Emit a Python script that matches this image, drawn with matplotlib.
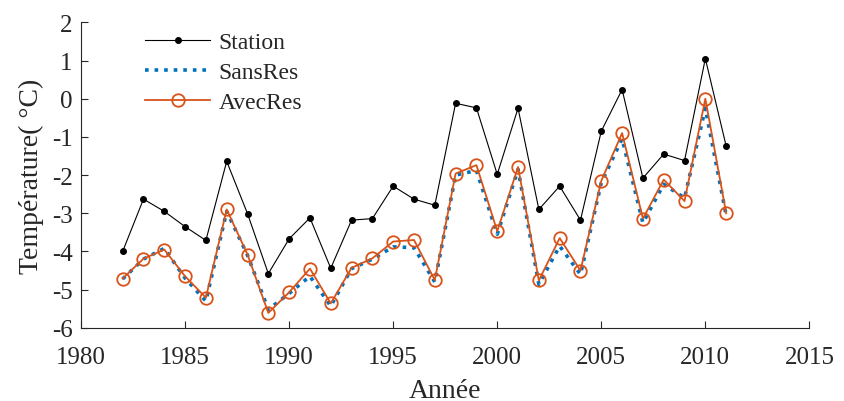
import numpy as np
import matplotlib.pyplot as plt

plt.rcParams['font.family'] = ['Liberation Serif', 'DejaVu Serif']
plt.rcParams['axes.unicode_minus'] = False

# données
annees = list(range(1982, 2012))
station = [-4.00, -2.63, -2.95, -3.35, -3.71, -1.64, -3.01, -4.58, -3.67, -3.12,
           -4.44, -3.18, -3.14, -2.29, -2.63, -2.79, -0.12, -0.24, -1.98, -0.25,
           -2.90, -2.29, -3.18, -0.85, 0.24, -2.08, -1.45, -1.62, 1.05, -1.24]
sans_res = [-4.72, -4.20, -3.92, -4.70, -5.30, -2.95, -4.10, -5.52, -5.10, -4.65,
            -5.43, -4.45, -4.20, -3.88, -3.90, -4.80, -2.00, -1.88, -3.55, -1.85,
            -4.86, -3.86, -4.60, -2.20, -1.05, -3.25, -2.24, -2.60, -0.25, -3.05]
avec_res = [-4.71, -4.19, -3.95, -4.65, -5.21, -2.90, -4.08, -5.61, -5.07, -4.45,
            -5.36, -4.43, -4.18, -3.74, -3.70, -4.75, -1.96, -1.74, -3.47, -1.79,
            -4.76, -3.65, -4.50, -2.15, -0.90, -3.14, -2.12, -2.68, 0.00, -3.00]

gris = '#262626'

fig = plt.figure(figsize=(8.44, 4.02), dpi=100)
ax = fig.add_axes([0.096, 0.182, 0.863, 0.76])

ax.plot(annees, station, '-', color='black', lw=0.8, marker='o', ms=4, label='Station')
ax.plot(annees, sans_res, ':', color='#0072BD', lw=2.6, label='SansRes')
ax.plot(annees, avec_res, '-', color='#D95319', lw=1.3, marker='o', ms=9,
        mfc='none', mec='#D95319', mew=1.3, label='AvecRes')

ax.set_xlim(1980, 2015)
ax.set_ylim(-6, 2)
ax.set_xticks(range(1980, 2016, 5))
ax.set_yticks(range(-6, 3))
ax.spines['top'].set_visible(False)
ax.spines['right'].set_visible(False)
for s in ['left', 'bottom']:
    ax.spines[s].set_color(gris)
    ax.spines[s].set_linewidth(0.8)
ax.tick_params(direction='in', length=5, labelsize=18, colors=gris)
ax.tick_params(axis='x', pad=13)
ax.tick_params(axis='y', pad=6)
ax.set_xlabel('Année', fontsize=20, color=gris, labelpad=7)
ax.set_ylabel('Température( °C)', fontsize=20, color=gris, labelpad=6)

leg = ax.legend(loc='upper left', bbox_to_anchor=(0.075, 1.0), borderaxespad=0,
                frameon=False, fontsize=17, handlelength=2.75, labelspacing=0.36,
                handletextpad=0.35)
for t in leg.get_texts():
    t.set_color(gris)

fig.savefig('out.png', dpi=100)
